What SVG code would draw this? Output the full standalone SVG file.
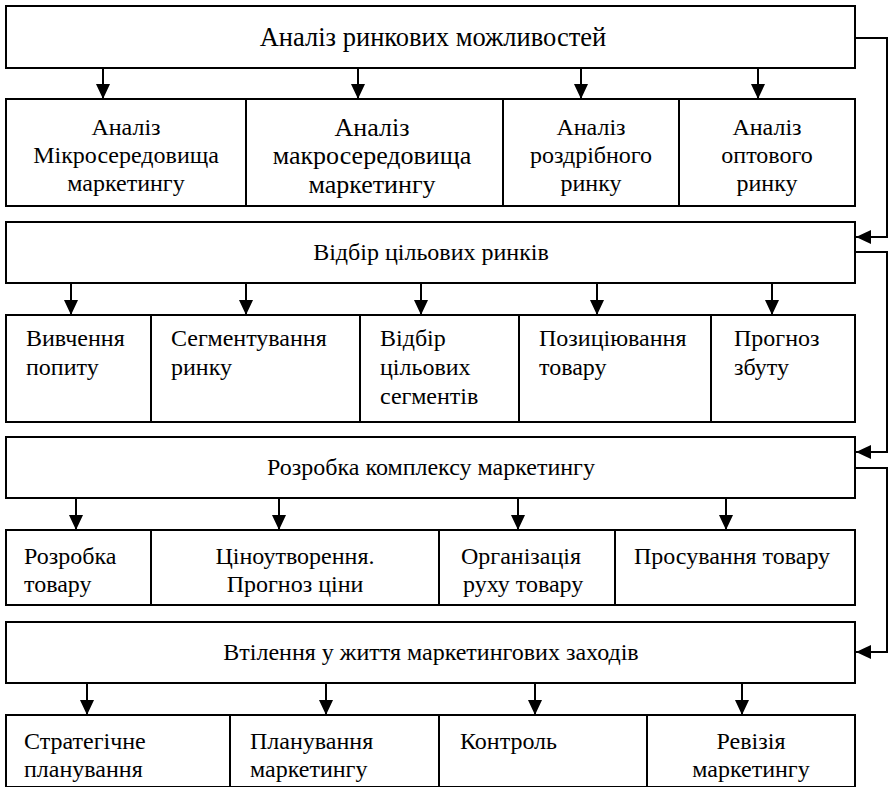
<svg xmlns="http://www.w3.org/2000/svg" width="892" height="787" viewBox="0 0 892 787">
<defs>
<style>
rect{fill:#fff;stroke:#000;stroke-width:2}
text{font-family:"Liberation Serif","Times New Roman",serif;font-size:24px;fill:#000}
.c{text-anchor:middle}
.big{font-size:26.5px}
.mid{font-size:26px}
.cn path{fill:none;stroke:#000;stroke-width:2;marker-end:url(#ah)}
</style>
<marker id="ah" markerUnits="userSpaceOnUse" markerWidth="16" markerHeight="14" refX="15" refY="7" orient="auto">
<path d="M0,0 L15,7 L0,14 z" fill="#000" stroke="none"/>
</marker>
</defs>
<rect x="0" y="0" width="892" height="787" style="stroke:none"/>

<g id="n1"><rect x="6" y="6" width="849" height="62"/><text class="c big" x="433" y="46">Аналіз ринкових можливостей</text></g>

<g id="n1a"><rect x="6" y="99" width="240" height="107"/><text class="c" x="126" y="135">Аналіз</text><text class="c" x="126" y="163">Мікросередовища</text><text class="c" x="126" y="191">маркетингу</text></g>
<g id="n1b"><rect x="246" y="99" width="257" height="107"/><text class="c mid" x="372" y="136">Аналіз</text><text class="c mid" x="372" y="164">макросередовища</text><text class="c mid" x="372" y="193">маркетингу</text></g>
<g id="n1c"><rect x="503" y="99" width="176" height="107"/><text class="c" x="591" y="135">Аналіз</text><text class="c" x="591" y="163">роздрібного</text><text class="c" x="591" y="191">ринку</text></g>
<g id="n1d"><rect x="679" y="99" width="176" height="107"/><text class="c" x="767" y="135">Аналіз</text><text class="c" x="767" y="163">оптового</text><text class="c" x="767" y="191">ринку</text></g>

<g id="n2"><rect x="6" y="222" width="849" height="61"/><text class="c" x="431" y="260">Відбір цільових ринків</text></g>

<g id="n2a"><rect x="6" y="315" width="145" height="107"/><text x="26" y="346">Вивчення</text><text x="26" y="375">попиту</text></g>
<g id="n2b"><rect x="151" y="315" width="209" height="107"/><text x="171" y="346">Сегментування</text><text x="171" y="375">ринку</text></g>
<g id="n2c"><rect x="360" y="315" width="159" height="107"/><text x="380" y="346">Відбір</text><text x="380" y="375">цільових</text><text x="380" y="404">сегментів</text></g>
<g id="n2d"><rect x="519" y="315" width="192" height="107"/><text x="539" y="346">Позиціювання</text><text x="539" y="375">товару</text></g>
<g id="n2e"><rect x="711" y="315" width="144" height="107"/><text x="734" y="346">Прогноз</text><text x="734" y="375">збуту</text></g>

<g id="n3"><rect x="6" y="437" width="849" height="61"/><text class="c" x="431" y="475">Розробка комплексу маркетингу</text></g>

<g id="n3a"><rect x="6" y="530" width="145" height="75"/><text x="24" y="564">Розробка</text><text x="24" y="592">товару</text></g>
<g id="n3b"><rect x="151" y="530" width="288" height="75"/><text class="c" x="295" y="564">Ціноутворення.</text><text class="c" x="295" y="592">Прогноз ціни</text></g>
<g id="n3c"><rect x="439" y="530" width="176" height="75"/><text x="461" y="564">Організація</text><text x="463" y="592">руху товару</text></g>
<g id="n3d"><rect x="615" y="530" width="240" height="75"/><text class="c" x="732" y="564">Просування товару</text></g>

<g id="n4"><rect x="6" y="622" width="849" height="61"/><text class="c" x="431" y="660">Втілення у життя маркетингових заходів</text></g>

<g id="n4a"><rect x="6" y="715" width="224" height="72"/><text x="24" y="749">Стратегічне</text><text x="24" y="777">планування</text></g>
<g id="n4b"><rect x="230" y="715" width="209" height="72"/><text x="250" y="749">Планування</text><text x="250" y="777">маркетингу</text></g>
<g id="n4c"><rect x="439" y="715" width="208" height="72"/><text x="460" y="749">Контроль</text></g>
<g id="n4d"><rect x="647" y="715" width="208" height="72"/><text class="c" x="751" y="749">Ревізія</text><text class="c" x="751" y="777">маркетингу</text></g>

<g id="connectors" class="cn">
<path d="M103,68 V99"/><path d="M358,68 V99"/><path d="M581,68 V99"/><path d="M758,68 V99"/>
<path d="M71,283 V315"/><path d="M246,283 V315"/><path d="M421,283 V315"/><path d="M597,283 V315"/><path d="M772,283 V315"/>
<path d="M76,498 V530"/><path d="M279,498 V530"/><path d="M518,498 V530"/><path d="M726,498 V530"/>
<path d="M87,683 V715"/><path d="M326,683 V715"/><path d="M535,683 V715"/><path d="M742,683 V715"/>
<path d="M855,38 H887 V237 H856"/>
<path d="M855,252 H887 V452 H856"/>
<path d="M855,468 H887 V652 H856"/>
</g>
</svg>
